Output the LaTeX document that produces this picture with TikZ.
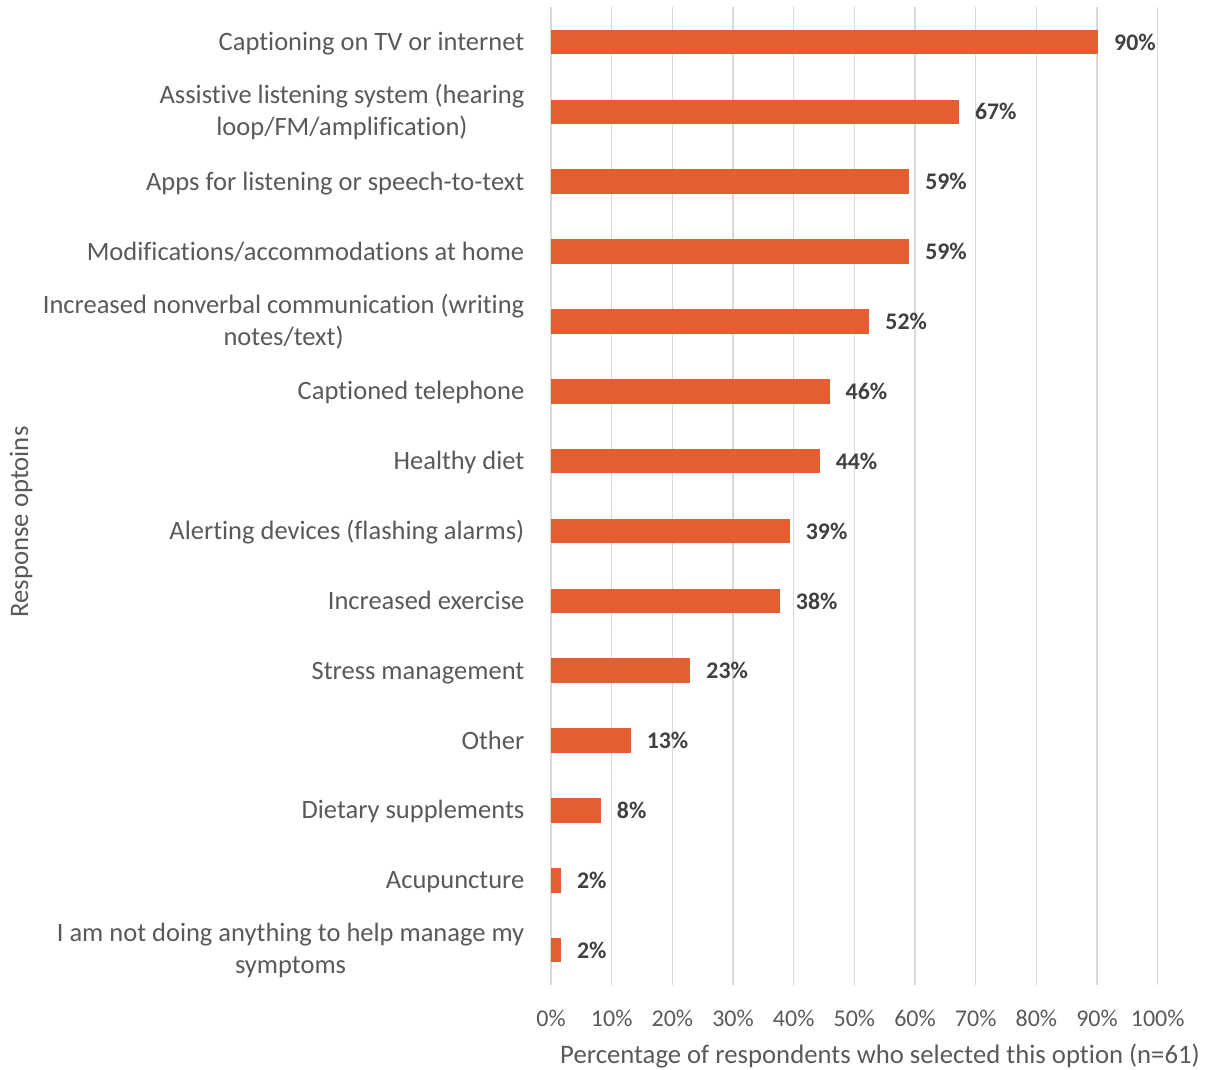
\documentclass[tikz,border=0pt]{standalone}
\usepackage{fontspec}
\setmainfont{Carlito}[Ligatures={NoCommon}]
\definecolor{barc}{RGB}{228,94,50}
\definecolor{gridc}{RGB}{217,217,217}
\definecolor{txtc}{RGB}{89,89,89}
\definecolor{valc}{RGB}{64,64,64}
\begin{document}
\begin{tikzpicture}[x=1pt,y=-1pt,
  lab/.style={align=center,inner sep=0pt,text=txtc,font=\fontsize{26.5}{32}\selectfont},
  val/.style={anchor=west,inner sep=0pt,text=valc,font=\fontsize{23.8}{28}\selectfont\bfseries},
  tick/.style={anchor=center,inner sep=0pt,text=txtc,font=\fontsize{24}{28}\selectfont},
  ttl/.style={inner sep=0pt,text=txtc,font=\fontsize{26.7}{32}\selectfont},
  bar/.style={fill=barc,draw=none},
  grid/.style={draw=gridc,line width=1.4pt}]
\useasboundingbox (0,0) rectangle (1212,1070);
% gridlines and ticks
\foreach \i in {0,...,10}{
  \pgfmathsetmacro{\gx}{551+60.67*\i}
  \draw[grid] (\gx,7) -- (\gx,985);
  \pgfmathtruncatemacro{\pc}{10*\i}
  \node[tick] (t\i) at (\gx,1018) {\pc\%};
}
% bars: count / label / value / name / anchor / y-offset
\foreach \n/\c/\v/\t/\an/\dy [count=\k from 0] in {
  55/{Captioning on TV or internet}/90/a/base east/8.5,
  41/{Assistive listening system (hearing\\loop/FM/amplification)}/67/b/east/0,
  36/{Apps for listening or speech-to-text}/59/c/base east/8.5,
  36/{Modifications/accommodations at home}/59/d/base east/8.5,
  32/{Increased nonverbal communication (writing\\notes/text)}/52/e/east/0,
  28/{Captioned telephone}/46/f/base east/8.5,
  27/{Healthy diet}/44/g/base east/8.5,
  24/{Alerting devices (flashing alarms)}/39/h/base east/8.5,
  23/{Increased exercise}/38/i/base east/8.5,
  14/{Stress management}/23/j/base east/8.5,
  8/{Other}/13/k/base east/8.5,
  5/{Dietary supplements}/8/l/base east/8.5,
  1/{Acupuncture}/2/m/base east/8.5,
  1/{I am not doing anything to help manage my\\symptoms}/2/n/east/0}{
  \pgfmathsetmacro{\yc}{42+69.86*\k}
  \pgfmathsetmacro{\xe}{551+9.946*\n}
  \path[bar] (551,\yc-12.3) rectangle (\xe,\yc+12.3);
  \node[lab,anchor=\an] (lab\t) at (524.5,\yc+\dy) {\c};
  \node[val] (val\t) at (\xe+16,\yc) {\v\%};
}
\node[ttl,anchor=base] (xtitle) at (880,1063) {Percentage of respondents who selected this option (n=61)};
\node[ttl,rotate=90] (ytitle) at (21,522) {Response optoins};
\end{tikzpicture}
\end{document}
